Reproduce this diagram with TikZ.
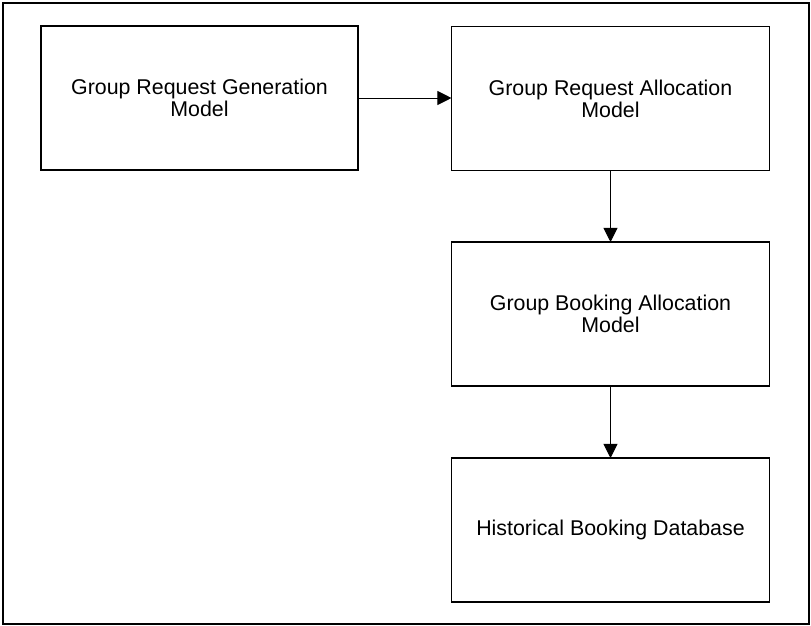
\documentclass[tikz,border=0pt]{standalone}
\usepackage{fontspec}
\setmainfont{Liberation Sans}
\usetikzlibrary{arrows.meta}

\tikzset{every picture/.style={line width=0.75pt}}
\tikzset{
  modelbox/.style={draw, line width=1pt, inner sep=0pt, outer sep=0pt, align=center,
    minimum width=7.95cm, minimum height=3.6cm, font=\fontsize{15.2}{15.8}\selectfont},
  flow/.style={line width=0.7pt, -{Triangle[length=10pt,width=10pt]}}
}

\begin{document}
\begin{tikzpicture}[x=0.025cm, y=-0.025cm]
    \useasboundingbox (0,0) rectangle (811,626);
    \draw[line width=1.3pt] (3,3) rectangle (809,624);
    \node[modelbox, minimum width=7.925cm] (genmodel) at (199.5,98) {Group Request Generation\\Model};
    \node[modelbox] (reqalloc) at (610.5,98.5) {Group Request Allocation\\Model};
    \node[modelbox] (bookalloc) at (610.5,314) {Group Booking Allocation\\Model};
    \node[modelbox] (histdb) at (610.5,530) {Historical Booking Database};
    \draw[flow] (genmodel.east) -- (genmodel.east -| reqalloc.west);
    \draw[flow] (reqalloc) -- (bookalloc);
    \draw[flow] (bookalloc) -- (histdb);
\end{tikzpicture}
\end{document}
